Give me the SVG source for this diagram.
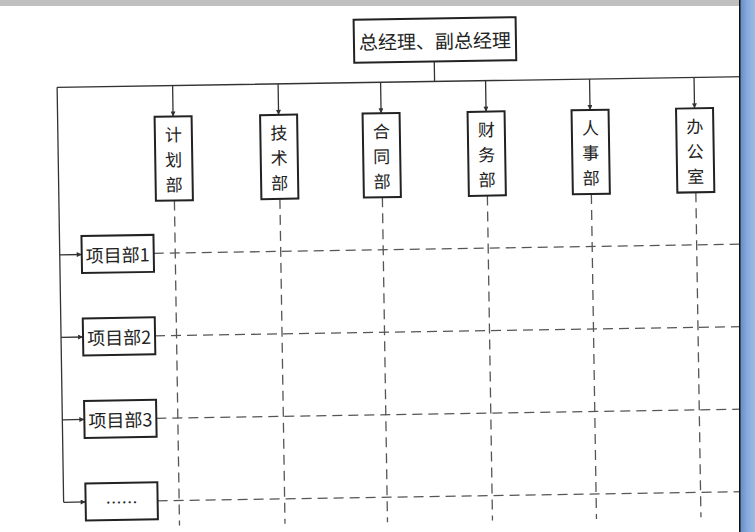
<svg xmlns="http://www.w3.org/2000/svg" width="755" height="532" viewBox="0 0 755 532">
<style>
.box{fill:#fff;stroke:#222;stroke-width:2}
.solid{fill:none;stroke:#333;stroke-width:1.3}
.arr{fill:none;stroke:#333;stroke-width:1.3;marker-end:url(#ah)}
.dash{fill:none;stroke:#555;stroke-width:1.3;stroke-dasharray:10 6}
.t{font-family:"Noto Sans CJK SC","Noto Sans",sans-serif;font-size:19px;fill:#222;text-anchor:middle;dominant-baseline:central}
.tp{font-size:18px}
.tv{font-size:17px}
</style>
<defs>
<marker id="ah" viewBox="0 0 10 10" refX="10" refY="5" markerWidth="8" markerHeight="5" markerUnits="userSpaceOnUse" orient="auto">
<path d="M0,0 L10,5 L0,10 Z" fill="#333"/>
</marker>
<linearGradient id="blue" x1="0" y1="0" x2="1" y2="0">
<stop offset="0" stop-color="#5f86c0"/>
<stop offset="0.5" stop-color="#86a8dc"/>
<stop offset="1" stop-color="#9dbbe6"/>
</linearGradient>
</defs>
<rect width="755" height="532" fill="#fff"/>
<g transform="rotate(-0.9 400 300)">
<g id="connectors">
<path class="solid" d="M438,62 V82 M60.5,82 H750 M60.5,82 V497"/>
<line class="arr" x1="176" y1="82" x2="176" y2="113"/>
<line class="arr" x1="281.5" y1="82" x2="281.5" y2="113"/>
<line class="arr" x1="384" y1="82" x2="384" y2="113"/>
<line class="arr" x1="489" y1="82" x2="489" y2="113"/>
<line class="arr" x1="593" y1="82" x2="593" y2="113"/>
<line class="arr" x1="697.5" y1="82" x2="697.5" y2="113"/>
<line class="arr" x1="60.5" y1="249.5" x2="82.5" y2="249.5"/>
<line class="arr" x1="60.5" y1="332" x2="82.5" y2="332"/>
<line class="arr" x1="60.5" y1="414.5" x2="82.5" y2="414.5"/>
<line class="arr" x1="60.5" y1="497" x2="82.5" y2="497"/>
<path class="dash" d="M176,197 V522 M281.5,197 V522 M384,197 V522 M489,197 V522 M593,197 V522 M697.5,197 V522"/>
<path class="dash" d="M154.5,249.5 H750 M154.5,332 H750 M154.5,414.5 H750 M154.5,497 H750"/>
</g>
<g id="gm"><rect class="box" x="358" y="19" width="162" height="43"/><text class="t" x="439" y="40.5">总经理、副总经理</text></g>
<g id="d1"><rect class="box" x="157.5" y="113" width="37" height="84"/><text class="t tv" x="176" y="130">计</text><text class="t tv" x="176" y="155">划</text><text class="t tv" x="176" y="180">部</text></g>
<g id="d2"><rect class="box" x="263" y="113" width="37" height="84"/><text class="t tv" x="281.5" y="130">技</text><text class="t tv" x="281.5" y="155">术</text><text class="t tv" x="281.5" y="180">部</text></g>
<g id="d3"><rect class="box" x="365.5" y="113" width="37" height="84"/><text class="t tv" x="384" y="130">合</text><text class="t tv" x="384" y="155">同</text><text class="t tv" x="384" y="180">部</text></g>
<g id="d4"><rect class="box" x="470.5" y="113" width="37" height="84"/><text class="t tv" x="489" y="130">财</text><text class="t tv" x="489" y="155">务</text><text class="t tv" x="489" y="180">部</text></g>
<g id="d5"><rect class="box" x="574.5" y="113" width="37" height="84"/><text class="t tv" x="593" y="130">人</text><text class="t tv" x="593" y="155">事</text><text class="t tv" x="593" y="180">部</text></g>
<g id="d6"><rect class="box" x="679" y="113" width="37" height="84"/><text class="t tv" x="697.5" y="130">办</text><text class="t tv" x="697.5" y="155">公</text><text class="t tv" x="697.5" y="180">室</text></g>
<g id="p1"><rect class="box" x="82.5" y="231" width="72" height="37"/><text class="t tp" x="118.5" y="249.5">项目部1</text></g>
<g id="p2"><rect class="box" x="82.5" y="313.5" width="72" height="37"/><text class="t tp" x="118.5" y="332">项目部2</text></g>
<g id="p3"><rect class="box" x="82.5" y="396" width="72" height="37"/><text class="t tp" x="118.5" y="414.5">项目部3</text></g>
<g id="p4"><rect class="box" x="82.5" y="478.5" width="72" height="37"/><text class="t" style="font-size:16px" x="118.5" y="497">……</text></g>
</g>
<rect x="0" y="0" width="740" height="6" fill="#c0c0c0"/>
<rect x="739" y="0" width="16" height="532" fill="url(#blue)"/>
<rect x="739" y="0" width="1.5" height="532" fill="#111"/>
</svg>
